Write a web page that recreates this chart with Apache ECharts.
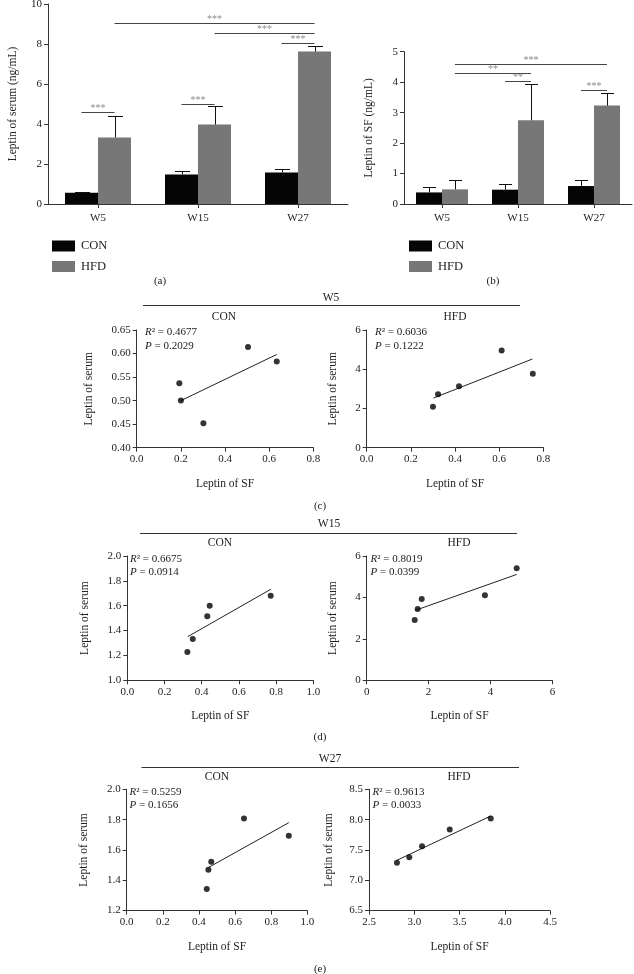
<!DOCTYPE html>
<html><head><meta charset="utf-8">
<script src="https://cdn.jsdelivr.net/npm/echarts@6/dist/echarts.min.js"></script>
<style>html,body{margin:0;padding:0;background:#fff}#c{width:634px;height:974px}</style>
</head><body><div id="c"></div>
<script>
// ---------- DATA ----------
const weeks = ['W5', 'W15', 'W27'];
const serumCON = [0.56, 1.48, 1.58];
const serumCONErr = [0.06, 0.19, 0.17];
const serumHFD = [3.33, 3.97, 7.62];
const serumHFDErr = [1.09, 0.93, 0.26];
const sfCON = [0.38, 0.47, 0.59];
const sfCONErr = [0.19, 0.18, 0.19];
const sfHFD = [0.48, 2.75, 3.23];
const sfHFDErr = [0.30, 1.18, 0.41];
// significance brackets: [category1, group1(0=CON,1=HFD), category2, group2, y, label]
const sigSerum = [[0,0,0,1,4.6,'***'],[1,0,1,1,5.02,'***'],[0,1,2,1,9.05,'***'],[1,1,2,1,8.57,'***'],[2,0,2,1,8.05,'***']];
const sigSF = [[0,1,2,1,4.6,'***'],[0,1,1,1,4.31,'**'],[1,0,1,1,4.04,'**'],[2,0,2,1,3.73,'***']];

const conW5 = [[0.193,0.537],[0.200,0.500],[0.302,0.452],[0.504,0.614],[0.634,0.583]];
const conW5Fit = [[0.200,0.500],[0.634,0.598]];
const hfdW5 = [[0.300,2.09],[0.323,2.72],[0.418,3.13],[0.611,4.96],[0.752,3.77]];
const hfdW5Fit = [[0.302,2.53],[0.750,4.52]];
const conW15 = [[0.323,1.228],[0.352,1.332],[0.430,1.515],[0.443,1.600],[0.771,1.680]];
const conW15Fit = [[0.325,1.351],[0.771,1.732]];
const hfdW15 = [[1.551,2.91],[1.648,3.44],[1.777,3.92],[3.820,4.10],[4.846,5.41]];
const hfdW15Fit = [[1.56,3.37],[4.846,5.11]];
const conW27 = [[0.443,1.343],[0.452,1.470],[0.468,1.523],[0.649,1.807],[0.897,1.693]];
const conW27Fit = [[0.452,1.484],[0.897,1.780]];
const hfdW27 = [[2.809,7.291],[2.945,7.38],[3.086,7.562],[3.392,7.836],[3.845,8.02]];
const hfdW27Fit = [[2.809,7.33],[3.845,8.06]];
const statsR2 = ['0.4677','0.6036','0.6675','0.8019','0.5259','0.9613'];
const statsP  = ['0.2029','0.1222','0.0914','0.0399','0.1656','0.0033'];

// ---------- STYLE / LAYOUT ----------
const FF = '"Liberation Serif", "DejaVu Serif", serif';
const TXT = '#222';
const AX = '#333';
const chart = echarts.init(document.getElementById('c'), null, {renderer:'canvas'});

const grids = [
  {left:48, top:4, width:300, height:200},
  {left:404, top:51.7, width:228, height:152.3},
  {left:136.7, top:330, width:176.7, height:117.7},
  {left:366.7, top:330, width:176.7, height:117.7},
  {left:127.3, top:556, width:186, height:124.3},
  {left:366.7, top:556, width:185.7, height:124.3},
  {left:126.7, top:789.3, width:180.7, height:121.3},
  {left:369, top:789.3, width:181, height:121.3}
].map(g => Object.assign({containLabel:false, outerBoundsMode:'none'}, g));

const axLine = {show:true, lineStyle:{color:AX, width:1}};
const axTick = {show:true, inside:false, length:4, lineStyle:{color:AX, width:1}};
const axLab = {color:TXT, fontSize:11, fontFamily:FF};
const nameTS = {color:TXT, fontSize:11.5, fontFamily:FF};

function catX(gi){
  return {type:'category', gridIndex:gi, data:weeks, axisLine:axLine,
    axisTick:Object.assign({alignWithLabel:true}, axTick),
    axisLabel:Object.assign({margin:9}, axLab), splitLine:{show:false}};
}
function valAx(gi, min, max, interval, dec, name, gap, isX){
  return {type:'value', gridIndex:gi, min, max, interval, name,
    nameLocation:'middle', nameGap:gap, nameTextStyle:nameTS,
    axisLine:axLine, axisTick:axTick, splitLine:{show:false},
    axisLabel:Object.assign({margin:6, formatter:v=>v.toFixed(dec)}, axLab)};
}

const xAxes = [
  catX(0), catX(1),
  valAx(2,0,0.8,0.2,1,'Leptin of SF',30,true),
  valAx(3,0,0.8,0.2,1,'Leptin of SF',30,true),
  valAx(4,0,1.0,0.2,1,'Leptin of SF',30,true),
  valAx(5,0,6,2,0,'Leptin of SF',30,true),
  valAx(6,0,1.0,0.2,1,'Leptin of SF',30,true),
  valAx(7,2.5,4.5,0.5,1,'Leptin of SF',30,true)
];
const yAxes = [
  valAx(0,0,10,2,0,'Leptin of serum (ng/mL)',29,false),
  valAx(1,0,5,1,0,'Leptin of SF (ng/mL)',29,false),
  valAx(2,0.40,0.65,0.05,2,'Leptin of serum',42,false),
  valAx(3,0,6,2,0,'Leptin of serum',28,false),
  valAx(4,1.0,2.0,0.2,1,'Leptin of serum',36.5,false),
  valAx(5,0,6,2,0,'Leptin of serum',28,false),
  valAx(6,1.2,2.0,0.2,1,'Leptin of serum',36.5,false),
  valAx(7,6.5,8.5,0.5,1,'Leptin of serum',34,false)
];

function barSeries(name, gi, vals, color, w){
  return {type:'bar', name, xAxisIndex:gi, yAxisIndex:gi, data:vals, barWidth:w, barGap:'0%',
    itemStyle:{color}, emphasis:{disabled:true}, z:2};
}
function errSeries(gi, means, errs, side, halfBar, capHalf){
  return {type:'custom', xAxisIndex:gi, yAxisIndex:gi, z:3, silent:true,
    encode:{x:0, y:[1,2]},
    data: means.map((m,i)=>[i, m, m+errs[i]]),
    renderItem:(p, api)=>{
      const c0 = api.coord([api.value(0), api.value(1)]);
      const c1 = api.coord([api.value(0), api.value(2)]);
      const x = Math.round(c0[0] + side*halfBar) + 0.5;
      const y1 = Math.round(c1[1]) + 0.5;
      return {type:'group', children:[
        {type:'line', shape:{x1:x, y1:c0[1], x2:x, y2:y1}, style:{stroke:'#111', lineWidth:1}},
        {type:'line', shape:{x1:x-capHalf, y1:y1, x2:x+capHalf, y2:y1}, style:{stroke:'#111', lineWidth:1}}
      ]};
    }};
}
function sigSeries(gi, sig, halfBar){
  return {type:'custom', xAxisIndex:gi, yAxisIndex:gi, z:4, silent:true,
    encode:{x:0, y:4},
    data: sig.map(s=>s.slice(0,5)),
    renderItem:(p, api)=>{
      const s = sig[p.dataIndex];
      const a = api.coord([api.value(0), api.value(4)]);
      const b = api.coord([api.value(2), api.value(4)]);
      const x1 = a[0] + (api.value(1) ? 1 : -1)*halfBar;
      const x2 = b[0] + (api.value(3) ? 1 : -1)*halfBar;
      const y = Math.round(a[1]) + 0.5;
      return {type:'group', children:[
        {type:'line', shape:{x1, y1:y, x2, y2:y}, style:{stroke:'#444', lineWidth:1}},
        {type:'text', style:{text:s[5], x:(x1+x2)/2, y:y+1, align:'center', verticalAlign:'bottom',
          textAlign:'center', textVerticalAlign:'bottom', fill:'#8a8a8a', font:'10px '+FF}}
      ]};
    }};
}
function scatterSeries(gi, pts){
  return {type:'scatter', xAxisIndex:gi, yAxisIndex:gi, data:pts, symbol:'circle', symbolSize:6,
    itemStyle:{color:'#000'}, emphasis:{disabled:true}, z:3};
}
function fitSeries(gi, pts){
  return {type:'line', xAxisIndex:gi, yAxisIndex:gi, data:pts, showSymbol:false, symbol:'none',
    lineStyle:{color:'#222', width:1}, emphasis:{disabled:true}, z:2};
}

const series = [
  barSeries('CON',0,serumCON,'#050505',33), barSeries('HFD',0,serumHFD,'#777777',33),
  errSeries(0,serumCON,serumCONErr,-1,16.5,7.5), errSeries(0,serumHFD,serumHFDErr,1,16.5,7.5),
  sigSeries(0,sigSerum,16.5),
  barSeries('CON',1,sfCON,'#050505',26), barSeries('HFD',1,sfHFD,'#777777',26),
  errSeries(1,sfCON,sfCONErr,-1,13,6.5), errSeries(1,sfHFD,sfHFDErr,1,13,6.5),
  sigSeries(1,sigSF,13),
  scatterSeries(2,conW5), fitSeries(2,conW5Fit),
  scatterSeries(3,hfdW5), fitSeries(3,hfdW5Fit),
  scatterSeries(4,conW15), fitSeries(4,conW15Fit),
  scatterSeries(5,hfdW15), fitSeries(5,hfdW15Fit),
  scatterSeries(6,conW27), fitSeries(6,conW27Fit),
  scatterSeries(7,hfdW27), fitSeries(7,hfdW27Fit)
];

function txt(text, x, y, size, opts){
  return Object.assign({type:'text', silent:true, style:Object.assign({text, x, y, fill:TXT,
    font:size+'px '+FF, align:'center', verticalAlign:'middle', textAlign:'center', textVerticalAlign:'middle'}, opts||{})});
}
function hline(x1, x2, y){
  return {type:'line', silent:true, shape:{x1, y1:y, x2, y2:y}, style:{stroke:'#333', lineWidth:1}};
}
function stat(i, x, y1, y2){
  return [
    {type:'text', silent:true, style:{text:'{i|R}² = '+statsR2[i], x, y:y1, fill:TXT, font:'11px '+FF,
      align:'left', verticalAlign:'middle', textAlign:'left', textVerticalAlign:'middle',
      rich:{i:{fontStyle:'italic', fontSize:11, fontFamily:FF, fill:TXT}}}},
    {type:'text', silent:true, style:{text:'{i|P} = '+statsP[i], x, y:y2, fill:TXT, font:'11px '+FF,
      align:'left', verticalAlign:'middle', textAlign:'left', textVerticalAlign:'middle',
      rich:{i:{fontStyle:'italic', fontSize:11, fontFamily:FF, fill:TXT}}}}
  ];
}

const graphic = [
  txt('(a)', 160, 281, 11), txt('(b)', 493, 281, 11),
  hline(143, 520, 305.5), txt('W5', 331, 297.5, 11.5),
  txt('CON', 224, 317, 11.5), txt('HFD', 455, 317, 11.5),
  txt('(c)', 320, 506, 11),
  hline(140, 517, 533.5), txt('W15', 329, 524, 11.5),
  txt('CON', 220, 543, 11.5), txt('HFD', 459, 543, 11.5),
  txt('(d)', 320, 737, 11),
  hline(141.5, 519, 767.5), txt('W27', 330, 758.5, 11.5),
  txt('CON', 217, 777, 11.5), txt('HFD', 459, 777, 11.5),
  txt('(e)', 320, 969, 11),
  ...stat(0, 145, 332.5, 346.5), ...stat(1, 375, 332.5, 346.5),
  ...stat(2, 130, 559.5, 572.5), ...stat(3, 370.5, 559.5, 572.5),
  ...stat(4, 129.5, 792, 805.5), ...stat(5, 372.5, 792, 805.5)
];

const legendBase = {orient:'vertical', data:['CON','HFD'], icon:'rect', itemWidth:23, itemHeight:11,
  itemGap:7.5, selectedMode:false, textStyle:{color:TXT, fontSize:12.5, fontFamily:FF, padding:[0,0,0,1]}};

chart.setOption({
  animation:false,
  backgroundColor:'#fff',
  textStyle:{fontFamily:FF},
  grid:grids, xAxis:xAxes, yAxis:yAxes, series,
  legend:[Object.assign({left:47, top:234.5}, legendBase), Object.assign({left:404, top:234.5}, legendBase)],
  graphic:{elements:graphic}
});
</script></body></html>
